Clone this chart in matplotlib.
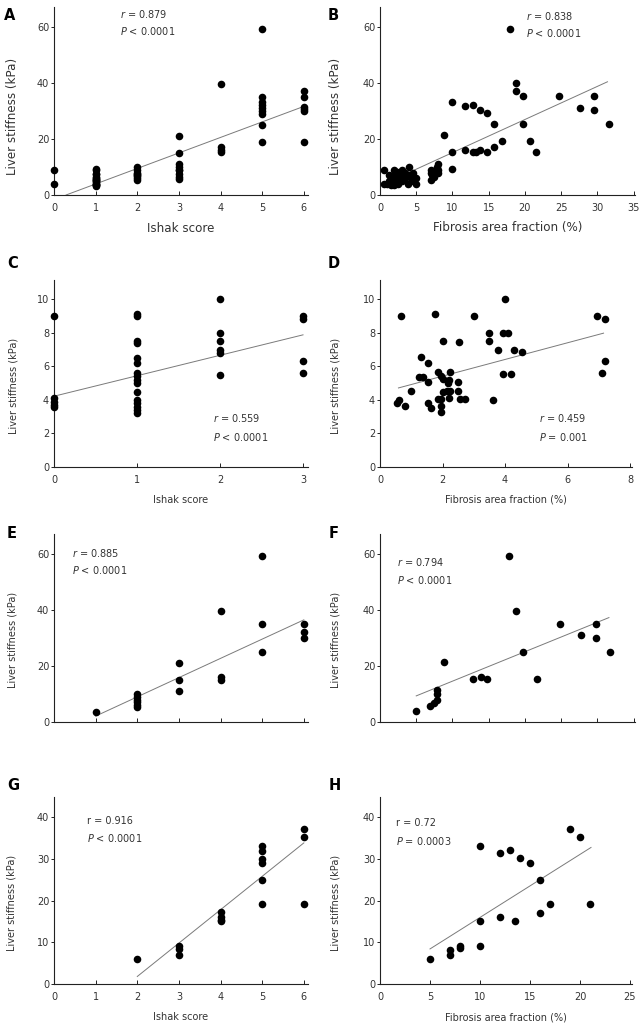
import matplotlib
matplotlib.use("Agg")
import matplotlib.pyplot as plt
import numpy as np

plt.rcParams['font.family'] = ['DejaVu Sans']
plt.rcParams['mathtext.fontset'] = 'dejavusans'

# ---------------- data ----------------
a_score = [0, 0,
           1, 1, 1, 1, 1, 1, 1, 1, 1, 1, 1, 1, 1, 1, 1, 1,
           2, 2, 2, 2, 2, 2, 2, 2,
           3, 3, 3, 3, 3, 3, 3, 3, 3,
           4, 4, 4, 4,
           5, 5, 5, 5, 5, 5, 5, 5, 5,
           6, 6, 6, 6, 6, 6]
a_ls = [9.0, 3.8,
        9.1, 9.0, 7.5, 7.4, 6.5, 6.2, 5.6, 5.4, 5.2, 5.0, 4.5, 4.0, 3.8, 3.6, 3.4, 3.2,
        10.0, 9.0, 8.0, 7.5, 7.0, 6.8, 6.0, 5.5,
        21.2, 15.0, 11.0, 10.0, 9.0, 8.8, 7.5, 6.3, 5.6,
        39.7, 17.0, 16.0, 15.2,
        59.2, 35.0, 33.0, 32.0, 31.0, 30.0, 29.0, 25.0, 19.0,
        37.0, 35.0, 31.5, 30.5, 30.0, 19.0]

b_faf = [18, 18.8, 18.8, 19.7, 19.7, 24.7, 27.6, 29.6, 29.6, 31.6, 20.7, 21.6, 16.8, 15.8,
         15.8, 14.8, 14.8, 13.8, 13.8, 12.8, 12.8, 13.2, 11.8, 11.8, 9.9, 9.9, 9.9, 8.8,
         7, 7, 7, 7.2, 7.5, 7.8, 7.9, 8, 8, 8, 7.5,
         0.5, 0.5, 1, 1.2, 1.5, 1.5, 2, 2, 2, 2, 2.5, 2.5, 3, 3, 3.5, 3.5, 3.8, 4, 4, 4.3,
         4.5, 4.5, 5, 5, 1.8, 3, 1.2, 2.3]
b_ls = [59.3, 40, 37.2, 35.2, 25.3, 35.2, 31, 35.2, 30.3, 25.3, 19.2, 15.2, 19.2, 25.3,
        17.2, 29.1, 15.2, 30.3, 16.1, 32.2, 15.2, 15.2, 31.6, 16.1, 33.1, 15.2, 9.2, 21.5,
        9, 8, 5.5, 7, 7.5, 8.5, 10, 11, 9, 8, 6.5,
        9, 4, 4, 5, 6, 3.5, 9, 7, 5, 3.5, 6, 4, 9, 5, 8, 6, 4, 10, 7, 6,
        8, 5, 6, 4, 4.5, 7, 7, 8.2]

c_score = [0, 0, 0, 0, 0,
           1, 1, 1, 1, 1, 1, 1, 1, 1, 1, 1, 1, 1, 1, 1, 1,
           2, 2, 2, 2, 2, 2,
           3, 3, 3, 3]
c_ls = [9.0, 4.1, 3.9, 3.7, 3.6,
        9.1, 9.0, 7.5, 7.4, 6.5, 6.2, 5.6, 5.4, 5.2, 5.0, 4.5, 4.0, 3.8, 3.6, 3.4, 3.2,
        10.0, 8.0, 7.5, 7.0, 6.8, 5.5,
        9.0, 8.8, 6.3, 5.6]

d_faf = [0.66, 1.75, 3.0, 3.99, 3.5, 3.5, 3.95, 4.1, 3.79, 4.29, 4.53, 3.95, 4.19, 3.6,
         6.93, 7.2, 7.2, 7.09, 2.0, 2.54,
         1.30, 1.52, 1.25, 1.36, 1.52, 1.86, 1.96, 2.02, 2.25, 2.21, 2.18, 2.51, 1.0, 2.02,
         2.13, 2.25, 2.51, 1.86, 1.96, 2.21, 2.55, 2.71, 0.61, 0.54, 0.79, 1.54, 1.62, 1.94, 1.94]
d_ls = [9.0, 9.1, 9.0, 10.0, 8.0, 7.5, 8.0, 8.0, 7.0, 7.0, 6.83, 5.52, 5.52, 4.02,
        9.0, 8.83, 6.32, 5.6, 7.53, 7.43,
        6.56, 6.2, 5.35, 5.35, 5.05, 5.65, 5.45, 5.25, 5.65, 5.21, 5.01, 5.05, 4.52, 4.46,
        4.52, 4.52, 4.52, 4.06, 4.06, 4.12, 4.06, 4.06, 4.02, 3.83, 3.63, 3.83, 3.53, 3.63, 3.27]

e_score = [1, 2, 2, 2, 2, 2, 2, 3, 3, 3, 4, 4, 4, 5, 5, 5, 6, 6, 6]
e_ls = [3.6, 10, 9, 8, 7, 6, 5.5, 21.2, 14.9, 11, 39.6, 16.1, 14.9, 59.3, 35, 25.1, 35, 31.9, 30.1]

f_faf = [5.0, 6.9, 7.4, 7.9, 7.9, 7.9, 8.9, 12.9, 13.9, 14.8, 17.8, 18.8, 19.8, 21.7,
         24.8, 27.7, 29.8, 29.8, 31.7]
f_ls = [3.8, 5.6, 6.8, 8.0, 10.1, 11.3, 21.5, 15.2, 16.1, 15.2, 59.3, 39.7, 25.1, 15.2,
        35.0, 31.0, 35.0, 30.1, 25.1]

g_score = [2, 3, 3, 3, 4, 4, 4, 4, 5, 5, 5, 5, 5, 5, 6, 6, 6]
g_ls = [6.0, 9.2, 8.4, 7.0, 17.2, 16.1, 15.4, 15.0, 33.0, 31.8, 30.0, 29.0, 25.0, 19.1,
        37.1, 35.1, 19.1]

h_faf = [5, 7, 7, 8, 8, 10, 10, 10, 12, 12, 13, 13.5, 14, 15, 16, 16, 17, 19, 20, 21]
h_ls = [6.0, 8.2, 7.0, 9.1, 8.6, 33.0, 15.1, 9.1, 31.5, 16.1, 32.0, 15.1, 30.1, 29.1,
        25.0, 17.1, 19.1, 37.1, 35.1, 19.1]

# regression lines (intercept, slope, x range)
fit_intercept = [-1.6, 3.3, 4.22, 4.42, -4.76, 4.06, -14.2, 0.85]
fit_slope = [5.53, 1.18, 1.22, 0.498, 6.86, 1.049, 8.0, 1.51]
fit_xmin = [0.29, 0.5, 0.0, 0.59, 1.0, 5.0, 2.0, 5.0]
fit_xmax = [6.0, 31.4, 3.0, 7.15, 6.0, 31.6, 6.0, 21.1]

r_text = ["$\\mathit{r}$ = 0.879", "$\\mathit{r}$ = 0.838", "$\\mathit{r}$ = 0.559",
          "$\\mathit{r}$ = 0.459", "$\\mathit{r}$ = 0.885", "$\\mathit{r}$ = 0.794",
          "r = 0.916", "r = 0.72"]
p_text = ["$\\mathit{P}$ < 0.0001", "$\\mathit{P}$ < 0.0001", "$\\mathit{P}$ < 0.0001",
          "$\\mathit{P}$ = 0.001", "$\\mathit{P}$ < 0.0001", "$\\mathit{P}$ < 0.0001",
          "$\\mathit{P}$ < 0.0001", "$\\mathit{P}$ = 0.0003"]
panel_letters = ["A", "B", "C", "D", "E", "F", "G", "H"]
ylabel = "Liver stiffness (kPa)"
xlabel_ishak = "Ishak score"
xlabel_faf = "Fibrosis area fraction (%)"

# ---------------- layout ----------------
W, H = 644, 1028
fig = plt.figure(figsize=(W / 100, H / 100), dpi=100)
fig.patch.set_facecolor('white')

TXT = '#333333'
AX = '#222222'

boxes = [(54, 7, 308, 195), (380, 7, 635, 195),
         (54, 280, 308, 467), (380, 280, 632, 467),
         (54, 534, 308, 722), (380, 534, 635, 722),
         (54, 797, 308, 984), (380, 797, 632, 984)]
xlims = [(0, 6.1), (0, 35.2), (0, 3.06), (0, 8.06), (0, 6.1), (0, 35.2), (0, 6.1), (0, 25.2)]
ylims = [(0, 67), (0, 67), (0, 11.15), (0, 11.15), (0, 67), (0, 67), (0, 44.8), (0, 44.8)]
xticks = [range(0, 7), range(0, 36, 5), range(0, 4), range(0, 9, 2),
          range(0, 7), range(0, 36, 5), range(0, 7), range(0, 26, 5)]
yticks = [range(0, 61, 20), range(0, 61, 20), range(0, 11, 2), range(0, 11, 2),
          range(0, 61, 20), range(0, 61, 20), range(0, 41, 10), range(0, 41, 10)]
show_xlabels = [True, True, True, True, False, False, True, True]
xlabels = [xlabel_ishak, xlabel_faf, xlabel_ishak, xlabel_faf, None, None, xlabel_ishak, xlabel_faf]
xs = [a_score, b_faf, c_score, d_faf, e_score, f_faf, g_score, h_faf]
ys = [a_ls, b_ls, c_ls, d_ls, e_ls, f_ls, g_ls, h_ls]

letter_pos = [(4, 15.5), (328, 16), (7, 263), (328, 263), (7, 534), (329, 534), (7, 786), (329, 786)]
ann_pos = [(120, 14, 31), (526, 15.5, 33), (213, 418.5, 436.7), (539, 418, 437),
           (72, 553, 570), (397, 562.5, 580), (87, 821, 837.5), (396, 823.5, 841)]
ylabel_pos = [(13, 116), (336, 116), (14, 386), (336, 386),
              (13, 640), (336, 640), (12, 903), (336, 903)]


def fx(px):
    return px / W


def fy(py):
    return 1 - py / H


for i in range(8):
    l, t, r, b = boxes[i]
    ax = fig.add_axes([l / W, 1 - b / H, (r - l) / W, (b - t) / H])
    ax.set_xlim(*xlims[i])
    ax.set_ylim(*ylims[i])
    for s in ['top', 'right']:
        ax.spines[s].set_visible(False)
    for s in ['left', 'bottom']:
        ax.spines[s].set_color(AX)
        ax.spines[s].set_linewidth(0.8)
    ax.set_xticks(list(xticks[i]))
    ax.set_yticks(list(yticks[i]))
    ax.tick_params(axis='x', direction='in', length=3, width=0.7, color=AX,
                   labelsize=7, labelcolor=TXT, pad=6)
    ax.tick_params(axis='y', direction='out', length=2, width=0.7, color=AX,
                   labelsize=7, labelcolor=TXT, pad=1.5)
    if not show_xlabels[i]:
        ax.set_xticklabels([])

    xf = np.array([fit_xmin[i], fit_xmax[i]])
    ax.plot(xf, fit_intercept[i] + fit_slope[i] * xf, color='#7a7a7a', lw=0.7, zorder=2)
    ax.scatter(xs[i], ys[i], s=30, color='black', linewidths=0, zorder=3, clip_on=False)

    lx, ly = letter_pos[i]
    fig.text(fx(lx), fy(ly), panel_letters[i], fontsize=10.5, fontweight='bold',
             ha='left', va='center', color='black')
    ax_x, r_y, p_y = ann_pos[i]
    fig.text(fx(ax_x), fy(r_y), r_text[i], fontsize=7, ha='left', va='center', color=TXT)
    fig.text(fx(ax_x), fy(p_y), p_text[i], fontsize=7, ha='left', va='center', color=TXT)

    yx, yy = ylabel_pos[i]
    fs_lab = 8.6 if i < 2 else 7
    fig.text(fx(yx), fy(yy), ylabel, fontsize=fs_lab, rotation=90,
             ha='center', va='center', color=TXT)
    if xlabels[i] is not None:
        cx = (l + r) / 2
        fig.text(fx(cx), fy(b + 33), xlabels[i], fontsize=fs_lab, ha='center',
                 va='center', color=TXT)

fig.savefig('out.png', dpi=100, facecolor='white')
